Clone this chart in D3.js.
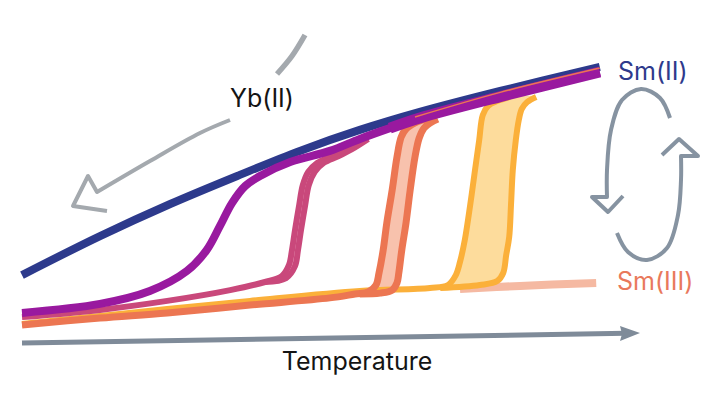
<!DOCTYPE html>
<html>
<head>
<meta charset="utf-8">
<script src="https://cdn.jsdelivr.net/npm/d3@7"></script>
<style>
  body { margin: 0; background: #fff; }
  text { font-family: Inter, "Open Sans", sans-serif; }
</style>
</head>
<body>
<div id="chart"></div>
<script>
// temperature (arb. units) vs signal (arb. units)

// Yb(II) / Sm(II) reference curve
var ybTemp = [0, 13, 24.7, 36.3, 46.3, 56.3, 66.3, 79.7, 96.3];
var ybVal  = [23.3, 36.3, 47, 56.7, 64.7, 71.7, 77.7, 84.7, 92.7];

// smooth crossover (purple)
var purpleTemp = [0, 13, 21.3, 27.5, 30.8, 33, 35, 37.2, 40, 44.7, 51.3, 56.3, 61.3, 66.3, 79.7, 96.3];
var purpleVal  = [10.7, 13.7, 18, 24.7, 31.7, 39.7, 47.3, 53, 56.7, 61, 64.7, 68.7, 72.3, 75.7, 82.8, 91];

// narrow loop (pink)
var pinkCoolTemp = [0, 13, 24.2, 34.7, 40.5, 43.3, 44.5, 45, 45.5, 46.2, 46.8, 47.7, 49.2, 51.3, 53.8, 56.3];
var pinkCoolVal  = [9.3, 11.7, 14.7, 18.3, 21, 23, 26.7, 31.7, 38.3, 46.7, 53.3, 57.7, 60.7, 62.7, 65, 68];
var pinkHeatTemp = [40.5, 44, 45.5, 46, 46.5, 47.2, 47.8, 48.8, 50.3, 52.7, 55, 57.7];
var pinkHeatVal  = [21, 22.3, 26.3, 31.7, 38.3, 46.7, 53.3, 57.7, 60.7, 62.9, 65.3, 68.7];

// medium loop (orange)
var orangeCoolTemp = [0, 13, 24.2, 38, 51.3, 55.5, 57.7, 59, 59.5, 60.2, 60.8, 61.7, 62.5, 63.2, 64, 65.5, 67.7];
var orangeCoolVal  = [6.7, 9, 10.7, 13.3, 15.7, 17, 17.7, 20, 24, 31.7, 40.7, 51.7, 62.7, 69.3, 72, 74, 75.7];
var orangeHeatTemp = [56.3, 59.7, 61.7, 62.5, 62.8, 63.3, 64, 64.7, 65.5, 66.2, 67, 68, 69.3];
var orangeHeatVal  = [17, 17.3, 18.3, 20.7, 24, 31.7, 40.7, 51.7, 62.7, 69, 72.3, 74, 75.3];
var stripeTemp = [65.5, 79.7, 96.3];
var stripeVal  = [76, 84.2, 92.3];

// wide loop (yellow)
var yellowCoolTemp = [0, 13, 24.2, 38, 56.3, 68, 71, 72.3, 73, 73.8, 74.7, 75.5, 76.2, 76.8, 77.7, 79.2, 81.3];
var yellowCoolVal  = [7, 9.7, 12, 14.7, 18, 19, 20, 23.3, 27.7, 35, 46.7, 58.3, 68.3, 76.7, 79.7, 81.3, 82.7];
var yellowHeatTemp = [69.7, 76.3, 79.2, 80.2, 80.7, 81.2, 81.5, 81.8, 82.3, 82.8, 83.3, 84.2, 85.7];
var yellowHeatVal  = [19, 20, 21.3, 24, 30, 36, 46.7, 58.3, 68.3, 75, 78.7, 81, 82.7];

// Sm(III) level
var sm3Temp = [73, 83, 95.7];
var sm3Val  = [18.7, 19.7, 20.7];

var labels = { yb: 'Yb(II)', sm2: 'Sm(II)', sm3: 'Sm(III)', axis: 'Temperature' };

var W = 718, H = 398;

var svg = d3.select('#chart').append('svg')
  .attr('width', W)
  .attr('height', H);

var x = d3.scaleLinear().domain([0, 100]).range([22, 622]);
var y = d3.scaleLinear().domain([0, 100]).range([345, 45]);

function pts(xs, ys) { return xs.map(function(v, i) { return [v, ys[i]]; }); }

var line = d3.line()
  .x(function(d) { return x(d[0]); })
  .y(function(d) { return y(d[1]); })
  .curve(d3.curveCatmullRom.alpha(0.5));

var px = d3.line().curve(d3.curveCatmullRom.alpha(0.5));

function stroke(data, color, w) {
  return svg.append('path')
    .attr('d', line(data))
    .attr('fill', 'none')
    .attr('stroke', color)
    .attr('stroke-width', w)
    .attr('stroke-linejoin', 'round');
}

function loopFill(cool, heat, color) {
  var start = heat[0][0] - 2;
  var poly = cool.filter(function(d) { return d[0] >= start; })
    .concat(heat.slice().reverse());
  svg.append('path')
    .attr('d', line(poly) + 'Z')
    .attr('fill', color)
    .attr('stroke', 'none');
}

var pinkCool = pts(pinkCoolTemp, pinkCoolVal), pinkHeat = pts(pinkHeatTemp, pinkHeatVal);
var orangeCool = pts(orangeCoolTemp, orangeCoolVal), orangeHeat = pts(orangeHeatTemp, orangeHeatVal);
var yellowCool = pts(yellowCoolTemp, yellowCoolVal), yellowHeat = pts(yellowHeatTemp, yellowHeatVal);
var purple = pts(purpleTemp, purpleVal);

// pale Sm(III) level
stroke(pts(sm3Temp, sm3Val), '#f5b9a2', 8);

// loop fills
loopFill(yellowCool, yellowHeat, '#fddc9c');
loopFill(orangeCool, orangeHeat, '#f8c2ad');
loopFill(pinkCool, pinkHeat, '#f1b9cc');

stroke(pts(ybTemp, ybVal), '#2d3a8c', 8);

stroke(yellowCool, '#fbb03a', 6);
stroke(yellowHeat, '#fbb03a', 6);
stroke(orangeCool, '#ec7652', 7);
stroke(orangeHeat, '#ec7652', 7);
stroke(pinkCool, '#c9487b', 6);
stroke(pinkHeat, '#c9487b', 6);

stroke(purple, '#99199f', 8);
// merged upper track is wider
stroke(purple.filter(function(d) { return d[0] >= 61; }), '#99199f', 11)
  .attr('stroke-linecap', 'butt');
stroke(pts(stripeTemp, stripeVal), '#ec7652', 1.5);

// temperature arrow
var ax0 = [x(0), y(0.7)], ax1 = [x(103), y(4)];
svg.append('line')
  .attr('x1', ax0[0]).attr('y1', ax0[1])
  .attr('x2', ax1[0] - 14).attr('y2', ax1[1] + 0.3)
  .attr('stroke', '#7f8b99')
  .attr('stroke-width', 5);
svg.append('path')
  .attr('d', 'M' + ax1[0] + ',' + ax1[1] + 'L' + (ax1[0] - 20) + ',' + (ax1[1] - 7) +
    'L' + (ax1[0] - 18) + ',' + (ax1[1] + 1) + 'L' + (ax1[0] - 20) + ',' + (ax1[1] + 8) + 'Z')
  .attr('fill', '#7f8b99');

svg.append('text')
  .attr('x', 357).attr('y', 370)
  .attr('text-anchor', 'middle')
  .attr('font-size', 25)
  .attr('fill', '#141414')
  .text(labels.axis);

// Yb(II) arrow
var grey = '#a4a9ae';
svg.append('path')
  .attr('d', px([[305, 35], [292, 56], [277, 74]]))
  .attr('fill', 'none').attr('stroke', grey).attr('stroke-width', 5.5);
svg.append('path')
  .attr('d', px([[230, 120], [200, 133], [150, 161], [97, 192]]) + 'L88,176L73,206L107,211')
  .attr('fill', 'none').attr('stroke', grey).attr('stroke-width', 4)
  .attr('stroke-linejoin', 'round');

svg.append('text')
  .attr('x', 230).attr('y', 107)
  .attr('font-size', 25)
  .attr('fill', '#141414')
  .text(labels.yb);

// Sm(II) <-> Sm(III) cycle
var cyc = '#8693a1';
svg.append('path')
  .attr('d', px([[670, 118], [660, 98], [641, 89], [622, 100], [611, 130], [607, 170], [607, 197]]) +
    'L592,197L608,212L623,196')
  .attr('fill', 'none').attr('stroke', cyc).attr('stroke-width', 4)
  .attr('stroke-linejoin', 'round');
svg.append('path')
  .attr('d', px([[617, 233], [628, 252], [647, 260], [667, 248], [678, 215], [681, 180], [681, 156]]) +
    'L698,156L679,139L662,155')
  .attr('fill', 'none').attr('stroke', cyc).attr('stroke-width', 4)
  .attr('stroke-linejoin', 'round');

svg.append('text')
  .attr('x', 618).attr('y', 80)
  .attr('font-size', 25)
  .attr('fill', '#2e3a8c')
  .text(labels.sm2);

svg.append('text')
  .attr('x', 617).attr('y', 290)
  .attr('font-size', 25)
  .attr('fill', '#e9795c')
  .text(labels.sm3);
</script>
</body>
</html>
